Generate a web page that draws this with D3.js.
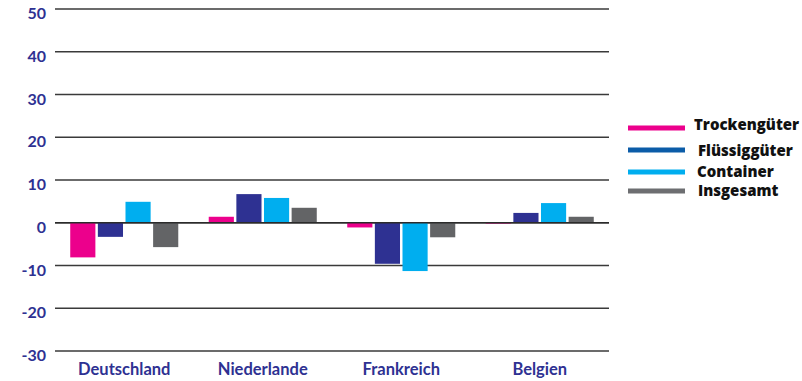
<!DOCTYPE html>
<html>
<head>
<meta charset="utf-8">
<script src="https://cdn.jsdelivr.net/npm/d3@7/dist/d3.min.js"></script>
<style>
  html, body { margin: 0; padding: 0; background: #fff; }
  svg { display: block; }
</style>
</head>
<body>
<svg id="chart" width="802" height="381"></svg>
<script>
// Veränderung des Umschlags nach Land und Güterart (%)
const countries = ["Deutschland", "Niederlande", "Frankreich", "Belgien"];
const seriesNames = ["Trockengüter", "Flüssiggüter", "Container", "Insgesamt"];
const trocken = [-8.1, 1.4, -1.1, -0.2];
const fluessig = [-3.3, 6.7, -9.6, 2.3];
const container = [4.9, 5.8, -11.3, 4.6];
const insgesamt = [-5.7, 3.5, -3.4, 1.4];
const yTicks = [-30, -20, -10, 0, 10, 20, 30, 40, 50];

const barColors = ["#EC008C", "#2E3192", "#00AEEF", "#636466"];
const legendColors = ["#EC008C", "#0B5CA8", "#00AEEF", "#6D6E71"];
const seriesValues = [trocken, fluessig, container, insgesamt];

const svg = d3.select("#chart");
const plotLeft = 55, plotRight = 609, plotTop = 9, plotBottom = 351;

const y = d3.scaleLinear().domain([-30, 50]).range([plotBottom, plotTop]);
const x0 = d3.scaleBand().domain(countries).range([plotLeft, plotRight]).paddingInner(0.22).paddingOuter(0.11);
const x1 = d3.scaleBand().domain(seriesNames).range([0, x0.bandwidth()]).paddingInner(0.09);

// gridlines
svg.append("g")
  .selectAll("line")
  .data(yTicks)
  .join("line")
  .attr("x1", plotLeft).attr("x2", plotRight)
  .attr("y1", d => y(d)).attr("y2", d => y(d))
  .attr("stroke", "#3a3a3a")
  .attr("stroke-width", 1.5);

// y axis labels (plain hyphen for negatives)
const yAxis = d3.axisLeft(y).tickValues(yTicks).tickFormat(d => String(d)).tickSize(0).tickPadding(9);
const gy = svg.append("g").attr("transform", `translate(${plotLeft},0)`).call(yAxis);
gy.select(".domain").remove();
gy.selectAll("text")
  .attr("dy", "0.6em")
  .attr("fill", "#2E3192")
  .style("font-family", "Lato, sans-serif")
  .style("font-weight", "700")
  .style("font-size", "16px");

// bars
const rows = [];
countries.forEach((c, i) => seriesNames.forEach((s, j) => rows.push({ c, s, j, v: seriesValues[j][i] })));
svg.append("g")
  .selectAll("rect")
  .data(rows)
  .join("rect")
  .attr("x", d => x0(d.c) + x1(d.s))
  .attr("width", x1.bandwidth())
  .attr("y", d => Math.min(y(d.v), y(0)))
  .attr("height", d => Math.abs(y(d.v) - y(0)))
  .attr("fill", d => barColors[d.j]);

// zero line drawn above bars
svg.append("line")
  .attr("x1", plotLeft).attr("x2", plotRight)
  .attr("y1", y(0)).attr("y2", y(0))
  .attr("stroke", "#2b2b2b").attr("stroke-width", 1.5);

// category labels
const xAxis = d3.axisBottom(x0).tickSize(0).tickPadding(12);
const gx = svg.append("g").attr("transform", `translate(0,${plotBottom})`).call(xAxis);
gx.select(".domain").remove();
gx.selectAll("text")
  .attr("fill", "#2E3192")
  .style("font-family", "Lato, sans-serif")
  .style("font-weight", "700")
  .style("font-size", "16.5px");

// legend
const legendY = [128, 150, 172, 191];
const legendTextX = [694, 698, 697, 698];
const legendTextShift = [-3, 1, 0, 0];
const lg = svg.append("g");
seriesNames.forEach((s, j) => {
  lg.append("line")
    .attr("x1", 628).attr("x2", 685)
    .attr("y1", legendY[j]).attr("y2", legendY[j])
    .attr("stroke", legendColors[j]).attr("stroke-width", 5);
  lg.append("text")
    .attr("x", legendTextX[j]).attr("y", legendY[j] + legendTextShift[j])
    .attr("dy", "0.35em")
    .attr("fill", "#111")
    .style("font-family", "'Open Sans', sans-serif")
    .style("font-weight", "800")
    .style("font-size", "15px")
    .text(s);
});
</script>
</body>
</html>
